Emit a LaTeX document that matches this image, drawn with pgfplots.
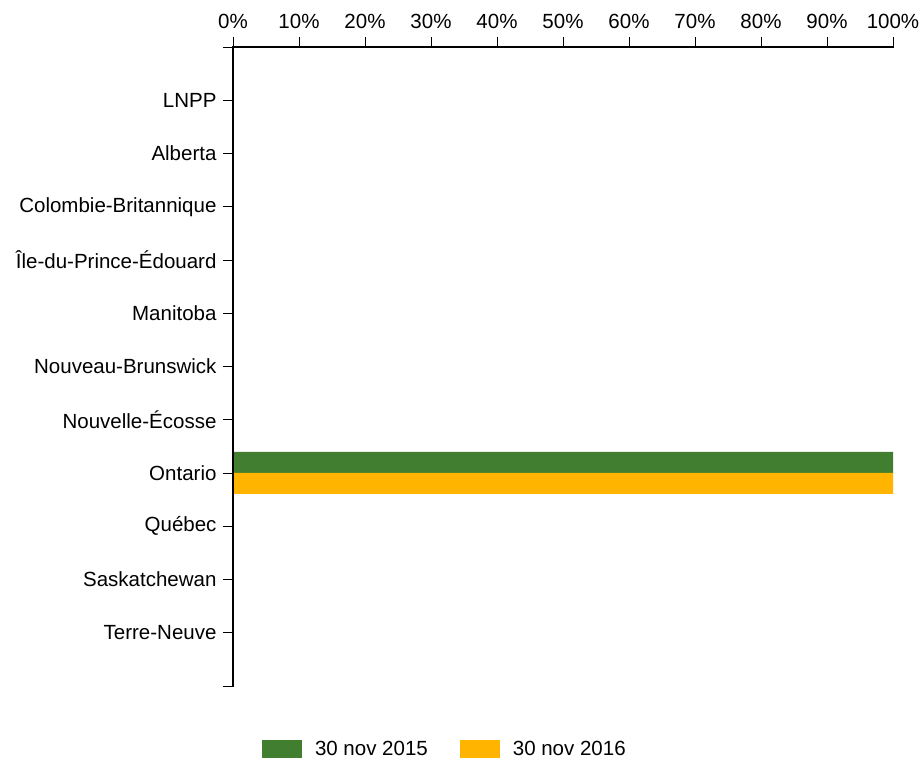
\documentclass[border=0pt]{standalone}
\usepackage{fontspec}
\setmainfont{Liberation Sans}
\usepackage{pgfplots}
\pgfplotsset{compat=1.18}
\definecolor{barGreen}{HTML}{417E2F}
\definecolor{barYellow}{HTML}{FFB400}
\begin{document}
\begin{tikzpicture}
\begin{axis}[
  scale only axis,
  width=660pt, height=639pt,
  xbar, bar width=21pt,
  xmin=0, xmax=100,
  ymin=-1, ymax=11,
  clip=false,
  axis x line*=top,
  axis y line*=left,
  xtick={0,10,...,100},
  xticklabel={\pgfmathprintnumber{\tick}\%},
  ytick={-1,0,...,11},
  yticklabels={,Terre-Neuve,Saskatchewan,Québec,Ontario,Nouvelle-Écosse,Nouveau-Brunswick,Manitoba,Île-du-Prince-Édouard,Colombie-Britannique,Alberta,LNPP,},
  tick align=outside,
  major tick length=10pt,
  tick style={black, line width=0.6pt},
  /pgf/number format/assume math mode=true,
  tick label style={font=\fontsize{20.5}{24}\selectfont},
  xticklabel style={yshift=5pt},
  yticklabel style={xshift=-3pt},
  legend style={at={(0.321,0)}, anchor=north, yshift=-51pt, draw=none,
    font=\fontsize{20.5}{24}\selectfont, legend columns=2,
    /tikz/every even column/.append style={column sep=30pt}},
  legend image code/.code={\fill[#1] (0pt,-9pt) rectangle (40pt,9pt); \path (51pt,0pt);},
]
\addplot[fill=barGreen, draw=none, bar shift=10.5pt] coordinates {
  (0,0) (0,1) (0,2) (100,3) (0,4) (0,5) (0,6) (0,7) (0,8) (0,9) (0,10)};
\addlegendentry{30 nov 2015}
\addplot[fill=barYellow, draw=none, bar shift=-10.5pt] coordinates {
  (0,0) (0,1) (0,2) (100,3) (0,4) (0,5) (0,6) (0,7) (0,8) (0,9) (0,10)};
\addlegendentry{30 nov 2016}
\draw[black, line width=2.2pt, line cap=rect] (rel axis cs:0,0) -- (rel axis cs:0,1) -- (rel axis cs:1,1);
\end{axis}
\path ([xshift=-233pt,yshift=-72pt]current axis.south west) rectangle ([xshift=30pt,yshift=47pt]current axis.north east);
\end{tikzpicture}
\end{document}
